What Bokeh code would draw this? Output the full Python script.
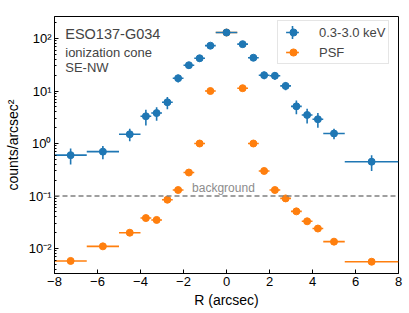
import numpy as np
from bokeh.plotting import figure
from bokeh.models import (ColumnDataSource, FixedTicker, Span, Label, Legend,
                          LegendItem)
from bokeh.embed import file_html
from bokeh.resources import INLINE

# ---- data -------------------------------------------------------------
r_lo = [-8, -6.5, -5, -4, -3.5, -3, -2.5, -2, -1.5, -1, -0.5,
        0.5, 1, 1.5, 2, 2.5, 3, 3.5, 4, 4.5, 5.5]
r_hi = [-6.5, -5, -4, -3.5, -3, -2.5, -2, -1.5, -1, -0.5, 0.5,
        1, 1.5, 2, 2.5, 3, 3.5, 4, 4.5, 5.5, 8]

soft_val = [0.6, 0.7, 1.5, 3.3, 3.8, 6.1, 17.5, 31, 42, 73, 130,
            78, 43, 20, 19.5, 12.5, 5.1, 3.5, 2.9, 1.55, 0.45]
soft_err = [0.2, 0.2, 0.4, 1.1, 1.1, 1.6, 3.0, 4.5, 5.5, 9, 13,
            9, 5.5, 3.3, 3.2, 2.2, 1.5, 1.1, 0.9, 0.35, 0.15]

psf_val = [0.0058, 0.011, 0.020, 0.038, 0.035, 0.085, 0.13, 0.28, 1.0, 10, 130,
           11.3, 1.0, 0.30, 0.13, 0.09, 0.051, 0.033, 0.024, 0.0135, 0.0056]
psf_err = [0.0002, 0.0004, 0.0007, 0.0013, 0.0012, 0.003, 0.004, 0.008, 0.03, 0.3, 3,
           0.3, 0.03, 0.009, 0.004, 0.003, 0.0017, 0.0011, 0.0008, 0.0005, 0.0002]

background_level = 0.1

x_ticks = [-8, -6, -4, -2, 0, 2, 4, 6, 8]
y_ticks = [1e-2, 1e-1, 1e0, 1e1, 1e2]
y_tick_labels = ["10\u207b\u00b2", "10\u207b\u00b9", "10\u2070", "10\u00b9", "10\u00b2"]

BLUE = "#1f77b4"
ORANGE = "#ff7f0e"
FONT = "Liberation Sans"


def make_source(val, err):
    lo = np.array(r_lo, float)
    hi = np.array(r_hi, float)
    v = np.array(val, float)
    e = np.array(err, float)
    return ColumnDataSource(dict(x=(lo + hi) / 2, lo=lo, hi=hi, y=v,
                                 ylo=v - e, yhi=v + e))


src_soft = make_source(soft_val, soft_err)
src_psf = make_source(psf_val, psf_err)

p = figure(width=409, height=313, y_axis_type="log",
           x_range=(-8, 8), y_range=(10 ** -2.476, 10 ** 2.419),
           output_backend="svg", toolbar_location=None,
           min_border_left=54, min_border_right=11, min_border_top=16,
           min_border_bottom=40)

p.xgrid.visible = False
p.ygrid.visible = False
p.outline_line_color = "black"
p.outline_line_width = 1
p.background_fill_color = "white"
p.border_fill_color = "white"

# background level
p.add_layout(Span(location=background_level, dimension="width",
                  line_color="#808080", line_dash="5 3", line_width=1.5))

# PSF first (drawn underneath)
for src, col in [(src_psf, ORANGE), (src_soft, BLUE)]:
    p.segment(x0="lo", x1="hi", y0="y", y1="y", source=src,
              line_color=col, line_width=1.6)
    p.segment(x0="x", x1="x", y0="ylo", y1="yhi", source=src,
              line_color=col, line_width=1.6)
    p.scatter(x="x", y="y", source=src, size=7, marker="circle",
              fill_color=col, line_color=col)

# legend-only renderers (placed outside the visible range)
def offsrc():
    return ColumnDataSource(dict(x=[1000.0], y=[1e6]))

lb_c = p.scatter(x="x", y="y", source=offsrc(), marker="circle",
                 line_color=BLUE, fill_color=BLUE)
lo_c = p.scatter(x="x", y="y", source=offsrc(), marker="circle",
                 line_color=ORANGE, fill_color=ORANGE)
lb_x = p.scatter(x="x", y="y", source=offsrc(), marker="cross",
                 line_color=BLUE, line_width=1.6)
lo_x = p.scatter(x="x", y="y", source=offsrc(), marker="dash",
                 line_color=ORANGE, line_width=1.6)

# main legend: box, labels and markers
legend = Legend(items=[LegendItem(label="0.3-3.0 keV", renderers=[lb_c]),
                       LegendItem(label="PSF", renderers=[lo_c])],
                location=(223, 209), padding=2, spacing=2,
                glyph_width=26, glyph_height=18, label_height=18,
                label_standoff=13, label_text_font=FONT,
                label_text_font_size="13px", border_line_color="#cccccc",
                border_line_width=1, background_fill_alpha=0.85)
p.add_layout(legend)

# error-bar parts of the legend handles (larger glyph box, no frame)
for rend, vy in [(lb_x, 225), (lo_x, 205)]:
    p.add_layout(Legend(items=[LegendItem(label=" ", renderers=[rend])],
                        location=(222, vy), padding=0, spacing=0,
                        glyph_width=32, glyph_height=32, label_height=20,
                        label_standoff=0, label_text_font_size="1px",
                        border_line_alpha=0, background_fill_alpha=0))

# texts
p.add_layout(Label(x=-7.5, y=120, text="ESO137-G034", text_font=FONT,
                   text_font_size="14.5px", text_baseline="middle"))
p.add_layout(Label(x=-7.5, y=55, text="ionization cone", text_font=FONT,
                   text_font_size="13px", text_baseline="middle"))
p.add_layout(Label(x=-7.5, y=28.5, text="SE-NW", text_font=FONT,
                   text_font_size="13px", text_baseline="middle"))
p.add_layout(Label(x=-1.6, y=background_level, y_offset=1, text="background",
                   text_font=FONT, text_font_size="12px", text_baseline="bottom",
                   text_color="#8c8c8c"))

# axes
minor = [m * 10.0 ** d for d in range(-3, 3) for m in range(2, 10)]
p.yaxis.ticker = FixedTicker(ticks=y_ticks, minor_ticks=minor)
p.yaxis.major_label_overrides = {t: l for t, l in zip(y_ticks, y_tick_labels)}
p.xaxis.ticker = FixedTicker(ticks=x_ticks, minor_ticks=[])
p.xaxis.major_label_overrides = {t: (str(t) if t >= 0 else "\u2212" + str(-t))
                                 for t in x_ticks}

for ax in (p.xaxis, p.yaxis):
    ax.major_tick_in = 4
    ax.major_tick_out = 0
    ax.minor_tick_in = 2
    ax.minor_tick_out = 0
    ax.axis_line_color = "black"
    ax.major_tick_line_color = "black"
    ax.minor_tick_line_color = "black"
    ax.major_label_text_font = FONT
    ax.major_label_text_font_size = "13px"
    ax.major_label_text_color = "black"
    ax.axis_label_text_font = FONT
    ax.axis_label_text_font_size = "14px"
    ax.axis_label_text_font_style = "normal"
    ax.axis_label_text_color = "black"
    ax.major_label_standoff = 3
    ax.axis_label_standoff = 3
p.yaxis.axis_label_standoff = 5

p.xaxis.axis_label = "R (arcsec)"
p.yaxis.axis_label = "counts/arcsec\u00b2"

open("out.html", "w").write(file_html(p, INLINE))
